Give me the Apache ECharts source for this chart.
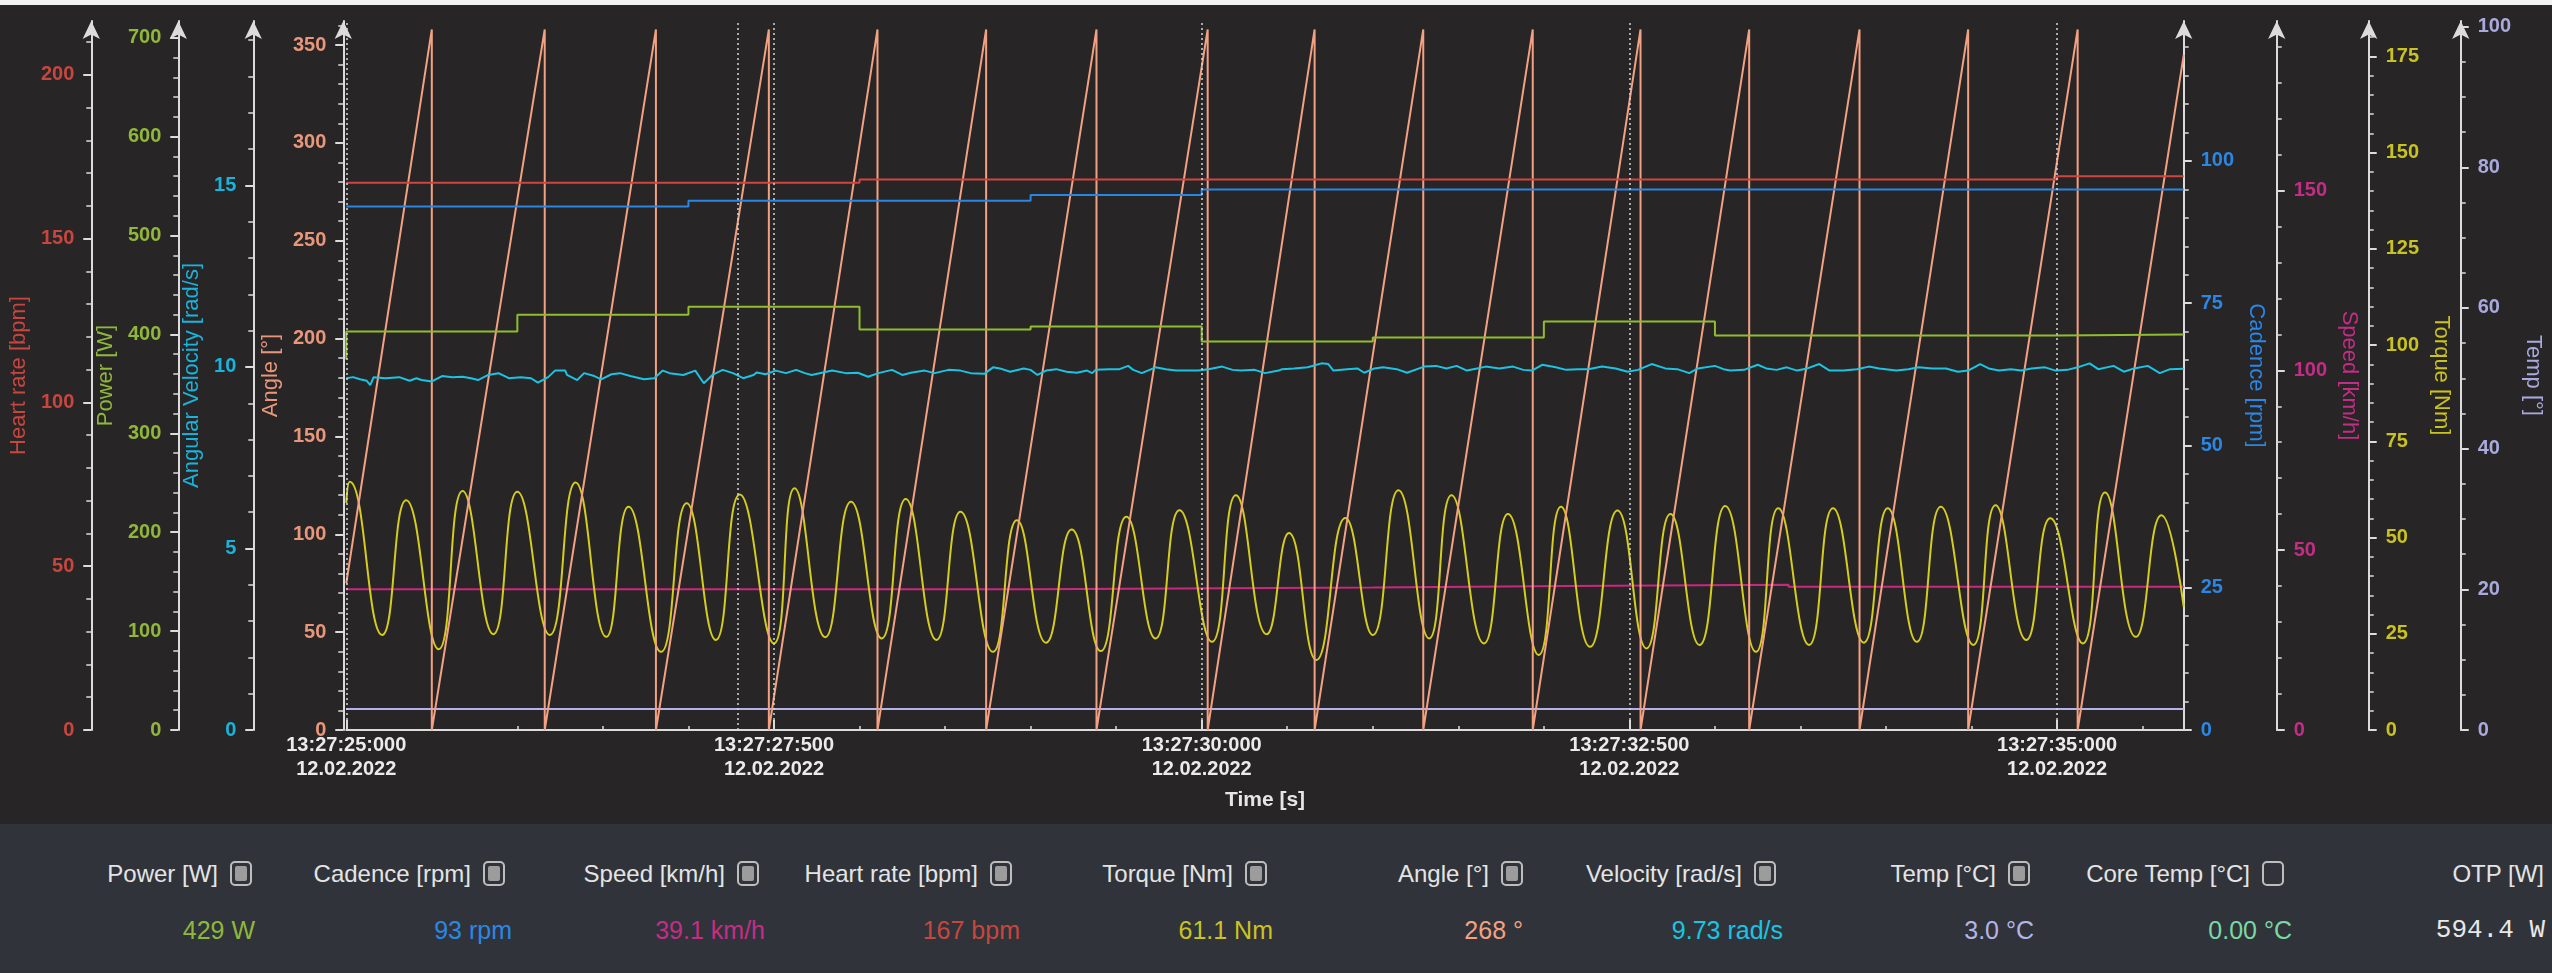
<!DOCTYPE html>
<html>
<head>
<meta charset="utf-8">
<title>Crank session 12.02.2022</title>
<script src="https://cdn.jsdelivr.net/npm/echarts@6/dist/echarts.min.js"></script>
<style>
  html, body { margin: 0; padding: 0; background: #282527; }
  #wrap { position: relative; width: 2552px; height: 973px; overflow: hidden; background: #282527; }
  #chart { position: absolute; left: 0; top: 0; width: 2552px; height: 824px; }
  #topline { position: absolute; left: 0; top: 0; width: 2552px; height: 5px; background: #f2f2f2; z-index: 5; }
  #panel { position: absolute; left: 0; top: 824px; width: 2552px; height: 149px; background: #30343a;
           font-family: "Liberation Sans", Arial, sans-serif; }
  .lab { position: absolute; top: 35px; line-height: 30px; font-size: 24px; color: #e4e4e4; white-space: nowrap; }
  .val { position: absolute; top: 91px; line-height: 30px; font-size: 25px; white-space: nowrap; }
  .mono { font-family: "Liberation Mono", "DejaVu Sans Mono", monospace; font-size: 26px; }
  .cb { position: absolute; top: 37px; width: 18px; height: 21px; border: 2px solid #bdbdbd; border-radius: 5px; }
  .cb.on::after { content: ""; position: absolute; left: 3px; top: 3px; width: 12px; height: 15px; background: #9c9c9c; border-radius: 2px; }
</style>
</head>
<body>
<div id="wrap">
  <div id="chart"></div>
  <div id="topline"></div>
  <div id="panel"></div>
</div>
<script>
// ---- time axis (seconds after 13:27:00) ----
const tStart = 25;
const tEnd = 35.74;
const xLabelTimes = [25, 27.5, 30, 32.5, 35];
const timePrefix = '13:27:';
const dateText = '12.02.2022';
const markerTimes = [25, 27.294, 27.5, 30, 32.5, 35];

// ---- tick label values per axis ----
const angleTicks = [0, 50, 100, 150, 200, 250, 300, 350];
const angVelTicks = [0, 5, 10, 15];
const powerTicks = [0, 100, 200, 300, 400, 500, 600, 700];
const hrTicks = [0, 50, 100, 150, 200];
const cadenceTicks = [0, 25, 50, 75, 100];
const speedTicks = [0, 50, 100, 150];
const torqueTicks = [0, 25, 50, 75, 100, 125, 150, 175];
const tempTicks = [0, 20, 40, 60, 80, 100];

// ---- recorded series [time s, value] ----
const heartRate = [[25.0, 167], [28.0, 168], [35.0, 169], [35.74, 169]];
const cadence = [[25.0, 92], [27.0, 93], [29.0, 94], [30.0, 95], [35.74, 95]];
const power = [[25.0, 375], [25.0, 403], [26.0, 420], [27.0, 428], [28.0, 405], [29.0, 408],
  [30.0, 393], [31.0, 397], [32.0, 413], [33.0, 399], [35.0, 400], [35.74, 400]];
const speed = [[25.0, 39.1], [29.0, 39.6], [31.0, 40.0], [32.15, 40.4], [33.43, 39.8], [35.74, 39.8]];
const temperature = [[25.0, 3.0], [35.74, 3.0]];

const crankAngle = [
  [25.00, 75], [25.50, 358], [25.50, 0], [26.16, 358], [26.16, 0], [26.81, 358], [26.81, 0],
  [27.47, 358], [27.47, 0], [28.105, 358], [28.105, 0], [28.74, 358], [28.74, 0],
  [29.385, 358], [29.385, 0], [30.035, 358], [30.035, 0], [30.66, 358], [30.66, 0],
  [31.295, 358], [31.295, 0], [31.935, 358], [31.935, 0], [32.565, 358], [32.565, 0],
  [33.20, 358], [33.20, 0], [33.845, 358], [33.845, 0], [34.48, 358], [34.48, 0],
  [35.12, 358], [35.12, 0], [35.74, 345]
];

const torque = [
  [25.00, 59.0], [25.02, 64.5], [25.21, 24.7], [25.35, 59.7], [25.54, 21.0], [25.68, 62.1], [25.86, 24.9],
  [26.00, 61.9], [26.19, 24.7], [26.34, 64.3], [26.52, 24.2], [26.65, 58.0], [26.84, 20.3], [26.99, 58.9],
  [27.16, 23.4], [27.30, 61.2], [27.50, 22.5], [27.62, 62.8], [27.80, 24.1], [27.95, 59.3], [28.13, 23.8],
  [28.27, 60.0], [28.45, 23.4], [28.59, 56.7], [28.78, 20.3], [28.92, 54.5], [29.09, 22.7], [29.24, 52.1],
  [29.41, 20.5], [29.56, 55.4], [29.73, 23.8], [29.87, 57.1], [30.06, 22.9], [30.20, 61.0], [30.38, 24.9],
  [30.51, 51.2], [30.67, 18.2], [30.84, 55.1], [31.00, 24.7], [31.15, 62.3], [31.33, 23.8], [31.46, 61.0],
  [31.65, 22.5], [31.79, 56.1], [31.97, 19.5], [32.10, 58.0], [32.27, 21.6], [32.43, 57.0], [32.60, 21.2],
  [32.74, 56.1], [32.91, 22.1], [33.06, 58.2], [33.24, 20.3], [33.37, 57.6], [33.55, 22.1], [33.69, 57.6],
  [33.87, 22.7], [34.01, 57.6], [34.18, 22.9], [34.32, 58.0], [34.51, 22.1], [34.64, 58.4], [34.82, 23.4],
  [34.96, 55.0], [35.15, 22.5], [35.28, 61.7], [35.46, 24.2], [35.61, 55.8], [35.74, 32.0]
];

const angularVelocity = [
  [25.00, 9.69], [25.04, 9.72], [25.08, 9.66], [25.12, 9.62], [25.14, 9.50], [25.16, 9.72], [25.23, 9.69],
  [25.31, 9.72], [25.37, 9.62], [25.41, 9.69], [25.44, 9.64], [25.50, 9.60], [25.56, 9.75], [25.62, 9.72],
  [25.68, 9.73], [25.73, 9.69], [25.77, 9.64], [25.83, 9.78], [25.89, 9.83], [25.95, 9.69], [26.02, 9.72],
  [26.08, 9.69], [26.12, 9.57], [26.18, 9.72], [26.22, 9.90], [26.28, 9.90], [26.29, 9.78], [26.35, 9.64],
  [26.39, 9.83], [26.45, 9.75], [26.49, 9.66], [26.55, 9.80], [26.60, 9.83], [26.66, 9.75], [26.74, 9.66],
  [26.80, 9.69], [26.85, 9.90], [26.89, 9.83], [26.97, 9.78], [27.04, 9.90], [27.07, 9.69], [27.09, 9.55],
  [27.14, 9.78], [27.20, 9.92], [27.26, 9.83], [27.32, 9.69], [27.38, 9.78], [27.40, 9.85], [27.45, 9.80],
  [27.51, 9.90], [27.57, 9.83], [27.63, 9.92], [27.68, 9.83], [27.72, 9.78], [27.78, 9.84], [27.84, 9.90],
  [27.92, 9.83], [27.99, 9.84], [28.05, 9.73], [28.11, 9.83], [28.19, 9.92], [28.25, 9.78], [28.30, 9.84],
  [28.38, 9.90], [28.44, 9.83], [28.52, 9.92], [28.59, 9.90], [28.65, 9.83], [28.73, 9.81], [28.78, 9.99],
  [28.82, 9.96], [28.88, 9.87], [28.96, 9.96], [29.00, 9.92], [29.04, 9.78], [29.09, 9.90], [29.15, 9.94],
  [29.21, 9.87], [29.27, 9.84], [29.33, 9.90], [29.36, 9.83], [29.38, 9.92], [29.46, 9.94], [29.52, 9.94],
  [29.57, 10.03], [29.60, 9.92], [29.65, 9.83], [29.73, 9.99], [29.79, 9.94], [29.85, 9.90], [29.92, 9.90],
  [29.98, 9.90], [30.04, 9.94], [30.12, 10.01], [30.18, 9.92], [30.23, 9.90], [30.31, 9.92], [30.37, 9.83],
  [30.45, 9.90], [30.47, 9.94], [30.54, 9.96], [30.62, 9.99], [30.70, 10.10], [30.74, 10.08], [30.77, 9.90],
  [30.85, 9.94], [30.91, 9.96], [30.95, 9.84], [31.01, 9.96], [31.06, 9.99], [31.14, 9.94], [31.20, 9.84],
  [31.30, 10.01], [31.37, 10.03], [31.43, 9.96], [31.49, 10.03], [31.55, 9.90], [31.61, 9.96], [31.66, 10.01],
  [31.74, 9.96], [31.82, 10.01], [31.88, 9.92], [31.93, 9.90], [31.99, 10.06], [32.07, 9.99], [32.13, 9.92],
  [32.20, 9.94], [32.26, 9.94], [32.34, 10.01], [32.42, 9.96], [32.49, 9.87], [32.55, 9.92], [32.63, 10.08],
  [32.71, 9.96], [32.78, 9.94], [32.85, 9.83], [32.90, 9.96], [33.00, 10.03], [33.05, 9.94], [33.09, 9.90],
  [33.17, 9.92], [33.25, 10.06], [33.30, 9.96], [33.36, 9.92], [33.42, 9.99], [33.48, 9.90], [33.54, 9.96],
  [33.61, 10.08], [33.67, 9.90], [33.75, 9.90], [33.83, 9.94], [33.90, 10.01], [33.96, 9.96], [34.06, 9.90],
  [34.13, 9.94], [34.19, 9.99], [34.27, 9.96], [34.35, 9.96], [34.42, 9.87], [34.48, 9.90], [34.55, 10.08],
  [34.60, 9.96], [34.66, 9.90], [34.73, 9.94], [34.79, 9.90], [34.85, 9.96], [34.93, 9.99], [34.99, 9.90],
  [35.06, 9.92], [35.12, 9.99], [35.19, 10.10], [35.24, 9.94], [35.33, 10.03], [35.39, 9.87], [35.45, 9.96],
  [35.53, 10.03], [35.60, 9.83], [35.66, 9.94], [35.74, 9.95]
];

// ---- live readout panel ----
const panelLabels = ['Power [W]', 'Cadence [rpm]', 'Speed [km/h]', 'Heart rate [bpm]', 'Torque [Nm]',
  'Angle [°]', 'Velocity [rad/s]', 'Temp [°C]', 'Core Temp [°C]', 'OTP [W]'];
const panelValues = ['429 W', '93 rpm', '39.1 km/h', '167 bpm', '61.1 Nm', '268 °', '9.73 rad/s', '3.0 °C', '0.00 °C', '594.4 W'];
const panelChecked = [true, true, true, true, true, true, true, true, false, null];

// ---- styling ----
const FONT = '"Liberation Sans", Arial, sans-serif';
const AXIS_COLOR = '#dcdcdc';
const C = {
  hr: '#cf4640', hrText: '#c8463e',
  power: '#8fbd2e', powerText: '#8fb83a',
  angVel: '#1ac4e2', angVelText: '#18b4dc',
  angle: '#f2a182', angleText: '#e8977b',
  cadence: '#2a86e2', cadenceText: '#2b87e3',
  speed: '#c8297f', speedText: '#c42d85',
  torque: '#d5cd1d', torqueText: '#c9c320',
  temp: '#b3b3ea', tempText: '#a9a9dd'
};
const panelColors = [C.powerText, C.cadenceText, C.speedText, C.hrText, C.torqueText,
  C.angle, C.angVel, '#b4b4e6', '#7ad8a2', '#e8e8e8'];
const cbLeft = [230, 483, 737, 990, 1245, 1501, 1754, 2008, 2262, null];
const valueRight = [255, 512, 765, 1020, 1273, 1523, 1783, 2034, 2292, 2545];

function yAxisDef(opt) {
  const right = opt.position === 'right';
  return {
    type: 'value',
    position: opt.position,
    offset: opt.offset,
    min: 0,
    max: opt.max,
    interval: opt.interval,
    name: opt.name,
    nameLocation: 'middle',
    nameGap: opt.nameGap,
    nameRotate: right ? -90 : 90,
    nameTextStyle: { color: opt.color, fontSize: 22, fontFamily: FONT },
    axisLine: { show: true, symbol: ['none', 'arrow'], symbolSize: [13, 18],
      lineStyle: { color: AXIS_COLOR, width: 2 } },
    axisTick: { show: true, length: 8, customValues: opt.ticks, lineStyle: { color: AXIS_COLOR, width: 2 } },
    minorTick: { show: true, splitNumber: opt.minor, length: 5, lineStyle: { color: AXIS_COLOR, width: 1.5 } },
    axisLabel: { show: true, customValues: opt.ticks, margin: 17, color: opt.color, fontSize: 20,
      fontWeight: 'bold', fontFamily: FONT },
    splitLine: { show: false },
    minorSplitLine: { show: false }
  };
}

const yAxes = [
  yAxisDef({ position: 'left', offset: 3, max: 362.3, interval: 50, ticks: angleTicks, minor: 5,
    name: 'Angle [°]', nameGap: 54, color: C.angleText }),
  yAxisDef({ position: 'left', offset: 93, max: 19.53, interval: 5, ticks: angVelTicks, minor: 5,
    name: 'Angular Velocity [rad/s]', nameGap: 39, color: C.angVelText }),
  yAxisDef({ position: 'left', offset: 168, max: 717, interval: 100, ticks: powerTicks, minor: 5,
    name: 'Power [W]', nameGap: 54, color: C.powerText }),
  yAxisDef({ position: 'left', offset: 255, max: 216.4, interval: 50, ticks: hrTicks, minor: 5,
    name: 'Heart rate [bpm]', nameGap: 54, color: C.hrText }),
  yAxisDef({ position: 'right', offset: 0, max: 124.6, interval: 25, ticks: cadenceTicks, minor: 5,
    name: 'Cadence [rpm]', nameGap: 55, color: C.cadenceText }),
  yAxisDef({ position: 'right', offset: 93, max: 197.1, interval: 50, ticks: speedTicks, minor: 5,
    name: 'Speed [km/h]', nameGap: 54, color: C.speedText }),
  yAxisDef({ position: 'right', offset: 185, max: 184.2, interval: 25, ticks: torqueTicks, minor: 5,
    name: 'Torque [Nm]', nameGap: 54, color: C.torqueText }),
  yAxisDef({ position: 'right', offset: 277, max: 100.8, interval: 20, ticks: tempTicks, minor: 4,
    name: 'Temp [°]', nameGap: 53, color: C.tempText })
];

function timeLabel(v) {
  const s = Math.floor(v + 1e-6);
  const ms = Math.round((v - s) * 1000);
  return timePrefix + s + ':' + String(ms).padStart(3, '0') + '\n' + dateText;
}

function lineSeries(name, data, axis, color, extra) {
  return Object.assign({
    name: name, type: 'line', data: data, yAxisIndex: axis, xAxisIndex: 0,
    showSymbol: false, symbol: 'none', clip: true, animation: false,
    lineStyle: { color: color, width: 2 }, emphasis: { disabled: true }
  }, extra || {});
}

const option = {
  backgroundColor: '#282527',
  animation: false,
  grid: { left: 340, right: 360, top: 21, bottom: 94, containLabel: false },
  xAxis: {
    type: 'value', min: tStart, max: tEnd, interval: 2.5,
    name: 'Time [s]', nameLocation: 'middle', nameGap: 60,
    nameTextStyle: { color: '#e6e6e6', fontSize: 21, fontWeight: 'bold', fontFamily: FONT },
    axisLine: { show: true, onZero: false, lineStyle: { color: AXIS_COLOR, width: 2 } },
    axisTick: { show: true, inside: true, length: 10, customValues: xLabelTimes, lineStyle: { color: AXIS_COLOR, width: 2 } },
    minorTick: { show: true, splitNumber: 5, length: 4, lineStyle: { color: AXIS_COLOR, width: 1.5 } },
    axisLabel: { customValues: xLabelTimes, formatter: timeLabel, margin: 3, color: '#ebebeb',
      fontSize: 20, fontWeight: 'bold', lineHeight: 24, fontFamily: FONT },
    splitLine: { show: false }
  },
  yAxis: yAxes,
  series: [
    lineSeries('Temp', temperature, 7, C.temp, {
      step: 'end',
      markLine: {
        silent: true, symbol: ['none', 'none'], animation: false,
        label: { show: false },
        lineStyle: { color: '#d6d6d6', type: [2, 3], width: 1.5 },
        data: markerTimes.map(t => ({ xAxis: t }))
      }
    }),
    lineSeries('Speed', speed, 5, C.speed, { step: 'end' }),
    lineSeries('Torque', torque, 6, C.torque, { smooth: 0.5 }),
    lineSeries('Angle', crankAngle, 0, C.angle),
    lineSeries('Angular Velocity', angularVelocity, 1, C.angVel),
    lineSeries('Power', power, 2, C.power, { step: 'end' }),
    lineSeries('Cadence', cadence, 4, C.cadence, { step: 'end' }),
    lineSeries('Heart rate', heartRate, 3, C.hr, { step: 'end' })
  ]
};

const chart = echarts.init(document.getElementById('chart'), null, { renderer: 'canvas' });
chart.setOption(option);

// readout panel
const panel = document.getElementById('panel');
panelLabels.forEach((label, i) => {
  const lab = document.createElement('div');
  lab.className = 'lab';
  const textRight = cbLeft[i] != null ? cbLeft[i] - 12 : 2544;
  lab.style.right = (2552 - textRight) + 'px';
  lab.textContent = label;
  panel.appendChild(lab);
  if (panelChecked[i] !== null) {
    const cb = document.createElement('div');
    cb.className = 'cb' + (panelChecked[i] ? ' on' : '');
    cb.style.left = cbLeft[i] + 'px';
    panel.appendChild(cb);
  }
  const val = document.createElement('div');
  val.className = 'val' + (i === panelLabels.length - 1 ? ' mono' : '');
  val.style.right = (2552 - valueRight[i]) + 'px';
  val.style.color = panelColors[i];
  val.textContent = panelValues[i];
  panel.appendChild(val);
});
</script>
</body>
</html>
